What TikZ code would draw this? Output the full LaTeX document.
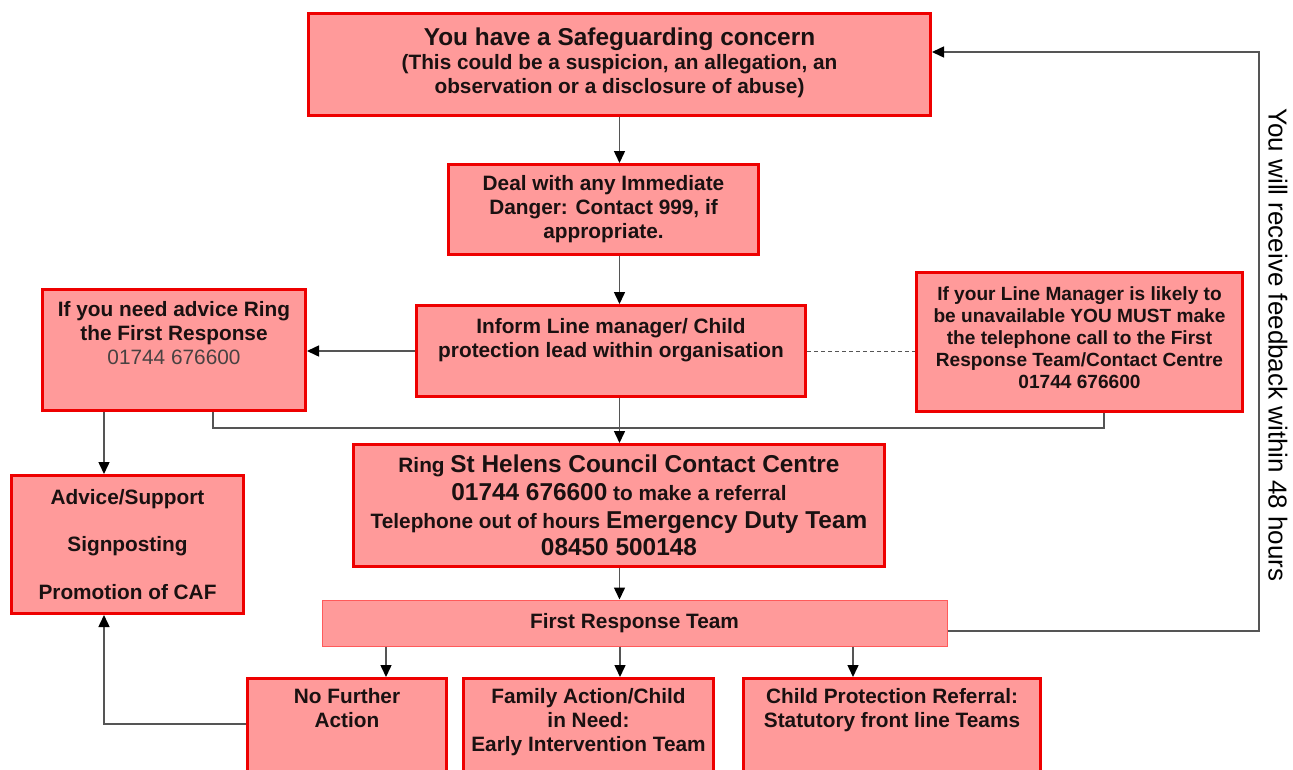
\documentclass[tikz,border=0pt]{standalone}
\usepackage{fontspec}
\setmainfont{Liberation Sans}
\usetikzlibrary{arrows.meta,calc}
\definecolor{boxfill}{HTML}{FF9A9A}
\definecolor{boxline}{HTML}{EE0000}
\definecolor{softline}{HTML}{FF5A5A}
\definecolor{linkgray}{HTML}{555555}
\definecolor{ink}{HTML}{1A1111}
\newcommand{\txtbig}{\fontsize{24.4}{28}\selectfont}
\newcommand{\txtmid}{\fontsize{20.8}{24}\selectfont}
\tikzset{box/.style={draw=boxline,fill=boxfill,line width=3pt,align=center,
  text=ink,font=\txtmid\bfseries,inner sep=4pt},
  arrow/.style={-{Triangle[length=12pt,width=11pt,color=black,fill=black]},line width=1.5pt,draw=linkgray},
  link/.style={line width=1.5pt,draw=linkgray}}

\begin{document}
\begin{tikzpicture}[x=1pt,y=-1pt]
\useasboundingbox (0,0) rectangle (1293,769);
\clip (0,0) rectangle (1293,769);
% main column
\node[box,minimum width=622pt,minimum height=102pt] (concern) at (619.5,64.5)
  {{\txtbig You have a Safeguarding concern}\\(This could be a suspicion, an allegation, an\\observation or a disclosure of abuse)\\[-17pt]\mbox{}};
\node[box,minimum width=310pt,minimum height=90pt] (danger) at (603.5,209.5)
  {Deal with any Immediate\\Danger: Contact 999, if\\appropriate.};
\node[box,minimum width=389pt,minimum height=91pt] (inform) at (611,351)
  {Inform Line manager/ Child\\protection lead within organisation\\[2pt]\mbox{}};
\node[box,minimum width=263pt,minimum height=121pt] (advice) at (174,350)
  {If you need advice Ring\\the First Response\\{\mdseries\color{ink!80} 01744 676600}\\[10pt]\mbox{}};
\node[box,font=\fontsize{19.1}{22}\selectfont\bfseries,minimum width=326pt,minimum height=139pt] (unavail) at (1079.5,342)
  {If your Line Manager is likely to\\be unavailable YOU MUST make\\the telephone call to the First\\Response Team/Contact Centre\\01744 676600\\[-14pt]\mbox{}};
\node[box,font=\fontsize{20.8}{27.7}\selectfont\bfseries,minimum width=531pt,minimum height=122pt] (ring) at (619,505.5)
  {Ring {\txtbig St Helens Council Contact Centre}\\{\txtbig 01744 676600} to make a referral\\Telephone out of hours {\txtbig Emergency Duty Team}\\{\txtbig 08450 500148}};
\node[box,minimum width=232pt,minimum height=138pt] (support) at (127.5,544.5)
  {Advice/Support\\[23.5pt]Signposting\\[23.5pt]Promotion of CAF};
\node[box,draw=softline,line width=1pt,minimum width=625pt,minimum height=46pt] (frt) at (634.5,623)
  {First Response Team};
% outcomes
\node[box,anchor=north,minimum width=199pt,text depth=80pt,inner ysep=10pt] (nfa) at (347,677)
  {No Further\\Action};
\node[box,anchor=north,minimum width=250pt,text depth=80pt,inner ysep=10pt] (family) at (588.5,677)
  {Family Action/Child\\in Need:\\Early Intervention Team};
\node[box,anchor=north,minimum width=297pt,text depth=80pt,inner ysep=10pt] (cpr) at (892,677)
  {Child Protection Referral:\\Statutory front line Teams};
\node[rotate=-90,text=black,font=\fontsize{26}{30}\selectfont] (feedback) at (1278,345)
  {You will receive feedback within 48 hours};
% connectors
\draw[arrow] (concern.south) -- (concern.south |- danger.north);
\draw[arrow] (concern.south |- danger.south) -- (concern.south |- inform.north);
\draw[arrow] (inform.west) -- (advice.east |- inform.west);
\draw[link,dashed,line width=1pt,dash pattern=on 4pt off 3pt] (inform.east) -- (unavail.west |- inform.east);
\draw[arrow] (concern.south |- inform.south) -- (concern.south |- ring.north);
\coordinate (bar) at (620,428);
\draw[link] ([xshift=39pt]advice.south) |- (bar) -| ([xshift=24.5pt]unavail.south);
\draw[arrow] ([xshift=-70pt]advice.south) -- ([xshift=-70pt]advice.south |- support.north);
\draw[arrow] (concern.south |- ring.south) -- (concern.south |- frt.north);
\foreach \b/\dx in {nfa/-248.5,family/-14.5,cpr/218.5}{
  \draw[arrow] ([xshift=\dx pt]frt.south) -- ([xshift=\dx pt]frt.south |- \b.north);}
\draw[arrow] ([yshift=-47pt]nfa.north west) -| ([xshift=-23.5pt]support.south);
\coordinate (fbtop) at (1259,52);
\draw[arrow] ([yshift=-8pt]frt.east) -| (fbtop) -- (concern.east |- fbtop);
\end{tikzpicture}
\end{document}
